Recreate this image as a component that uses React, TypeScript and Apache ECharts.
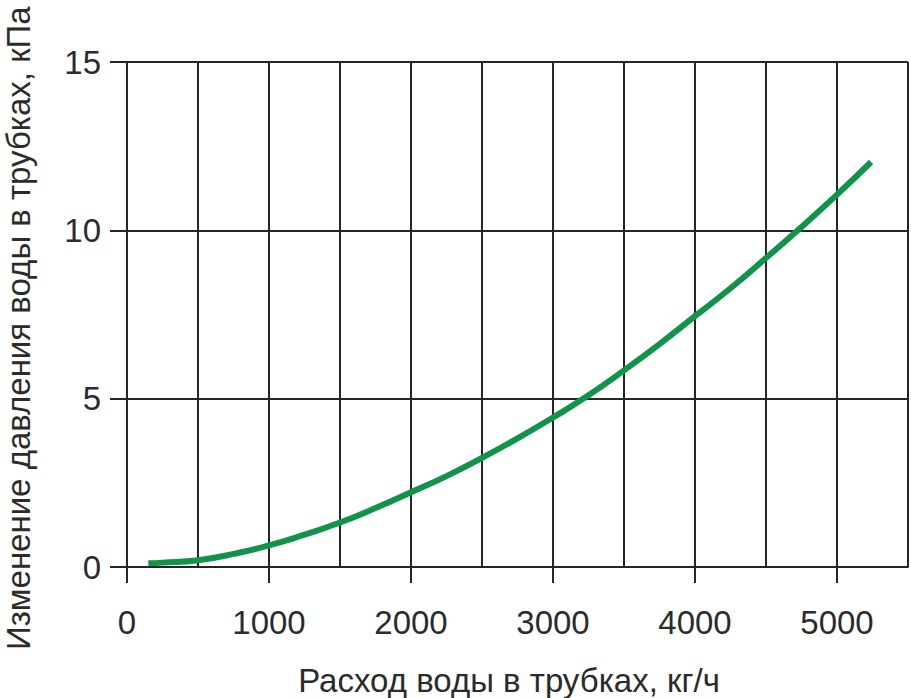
import React, { useEffect, useRef } from "react";
import * as echarts from "echarts";

const flowKgH = [150, 250, 500, 750, 1000, 1250, 1500, 1750, 2000, 2250, 2500, 2750, 3000, 3250, 3500, 3750, 4000, 4250, 4500, 4750, 5000, 5240];
const pressureKPa = [0.11, 0.13, 0.2, 0.39, 0.64, 0.96, 1.32, 1.75, 2.22, 2.7, 3.24, 3.82, 4.44, 5.1, 5.84, 6.62, 7.45, 8.28, 9.18, 10.1, 11.06, 12.03];
const xTickValues = [0, 1000, 2000, 3000, 4000, 5000];
const yTickValues = [0, 5, 10, 15];
const xTitle = "Расход воды в трубках, кг/ч";
const yTitle = "Изменение давления воды в трубках, кПа";

export default function App() {
  const ref = useRef<HTMLDivElement>(null);
  useEffect(() => {
    document.body.style.margin = "0";
    if (!ref.current) return;
    const chart = echarts.init(ref.current, null, { renderer: "svg" });
    const lineColor = "#262626";
    const textColor = "#2b2b2b";
    const font = "Liberation Sans";
    chart.setOption({
      animation: false,
      grid: { left: 127, top: 62, right: 3, bottom: 131 },
      xAxis: [
        {
          type: "value",
          min: 0,
          max: 5500,
          interval: 500,
          axisLine: { show: true, lineStyle: { color: lineColor, width: 2 } },
          axisTick: { show: false },
          splitLine: { show: true, lineStyle: { color: lineColor, width: 2 } },
          axisLabel: {
            margin: 39,
            fontSize: 33,
            fontFamily: font,
            color: textColor,
            formatter: (v: number) => (xTickValues.includes(v) ? String(v) : ""),
          },
        },
        {
          type: "value",
          position: "bottom",
          min: 0,
          max: 5500,
          interval: 1000,
          axisLine: { show: false },
          axisTick: {
            show: true,
            inside: false,
            length: 16,
            customValues: xTickValues,
            lineStyle: { color: lineColor, width: 2 },
          },
          splitLine: { show: false },
          axisLabel: { show: false },
        },
      ],
      yAxis: {
        type: "value",
        min: 0,
        max: 15,
        interval: 5,
        axisLine: { show: true, lineStyle: { color: lineColor, width: 2 } },
        axisTick: { show: true, length: 17, lineStyle: { color: lineColor, width: 2 } },
        splitLine: { show: true, lineStyle: { color: lineColor, width: 2 } },
        axisLabel: {
          margin: 26,
          fontSize: 33,
          fontFamily: font,
          color: textColor,
          formatter: (v: number) => (yTickValues.includes(v) ? String(v) : ""),
        },
      },
      graphic: [
        {
          type: "text",
          x: 509,
          y: 680,
          style: {
            text: xTitle,
            fontSize: 33,
            fontFamily: font,
            fill: textColor,
            textAlign: "center",
            textVerticalAlign: "middle",
          },
        },
        {
          type: "text",
          x: 18,
          y: 650,
          rotation: Math.PI / 2,
          style: {
            text: yTitle,
            fontSize: 33,
            fontFamily: font,
            fill: textColor,
            textAlign: "left",
            textVerticalAlign: "middle",
          },
        },
      ],
      series: [
        {
          type: "line",
          xAxisIndex: 0,
          data: flowKgH.map((x, i) => [x, pressureKPa[i]]),
          smooth: 0.5,
          showSymbol: false,
          lineStyle: { color: "#12934a", width: 6, cap: "butt" },
        },
      ],
    });
    return () => chart.dispose();
  }, []);
  return <div ref={ref} style={{ width: 911, height: 698 }} />;
}
